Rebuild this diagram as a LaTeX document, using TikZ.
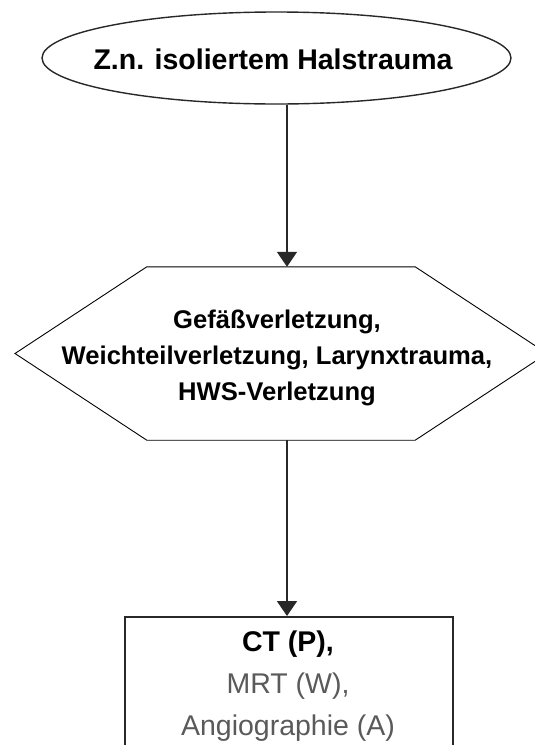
\documentclass[tikz,border=0pt]{standalone}
\usepackage{fontspec}
\setmainfont{Liberation Sans}
\usetikzlibrary{arrows.meta,shapes.geometric}
\definecolor{txtgray}{RGB}{90,90,90}
\definecolor{linegray}{RGB}{40,40,40}
\tikzset{
  startbox/.style={ellipse, draw=linegray, line width=1.4pt, minimum width=469pt, minimum height=92pt, inner sep=0pt},
  hexframe/.style={draw=none, minimum width=268pt, minimum height=173pt, inner sep=0pt},
  hexline/.style={draw=black, line width=0.9pt, line join=miter},
  resultbox/.style={draw=linegray, line width=1.8pt, minimum width=328pt, minimum height=200pt, inner sep=0pt},
  flow/.style={draw=linegray, line width=1.8pt, -{Triangle[width=20pt,length=15pt]}},
  labeltext/.style={font=\bfseries\fontsize{28.5}{34}\selectfont, align=center, inner sep=0pt},
}
\begin{document}
\begin{tikzpicture}[x=1pt,y=-1pt]
\useasboundingbox (0,0) rectangle (535,745);
\clip (0,0) rectangle (535,745);
\fill[white] (0,0) rectangle (535,745);
% start ellipse
\node[startbox] (top) at (276.5,58) {};
\node[labeltext] (toptext) at (273,59) {Z.n. isoliertem Halstrauma};
% hexagon
\node[hexframe] (hex) at (281,353.5) {};
\coordinate (hexleft) at (15,353.5);
\coordinate (hexright) at (547,353.5);
\draw[hexline] (hex.north west) -- (hex.north east) -- (hexright) -- (hex.south east) -- (hex.south west) -- (hexleft) -- cycle;
\node[font=\bfseries\fontsize{25.6}{36}\selectfont, align=center, inner sep=0pt] (hextext) at (277,358)
  {Gefäßverletzung,\\Weichteilverletzung, Larynxtrauma,\\HWS-Verletzung};
% result box
\node[resultbox, anchor=north] (box) at (289,616) {};
\node[align=center, inner sep=0pt, anchor=north, font=\fontsize{28.5}{42}\selectfont] (boxtext) at (288,631)
  {\textbf{CT (P),}\\\textcolor{txtgray}{MRT (W),}\\\textcolor{txtgray}{Angiographie (A)}};
% connectors
\coordinate (axis) at (287,0);
\draw[flow] (top.south -| axis) -- (hex.north -| axis);
\draw[flow] (hex.south -| axis) -- (box.north -| axis);
\end{tikzpicture}
\end{document}
